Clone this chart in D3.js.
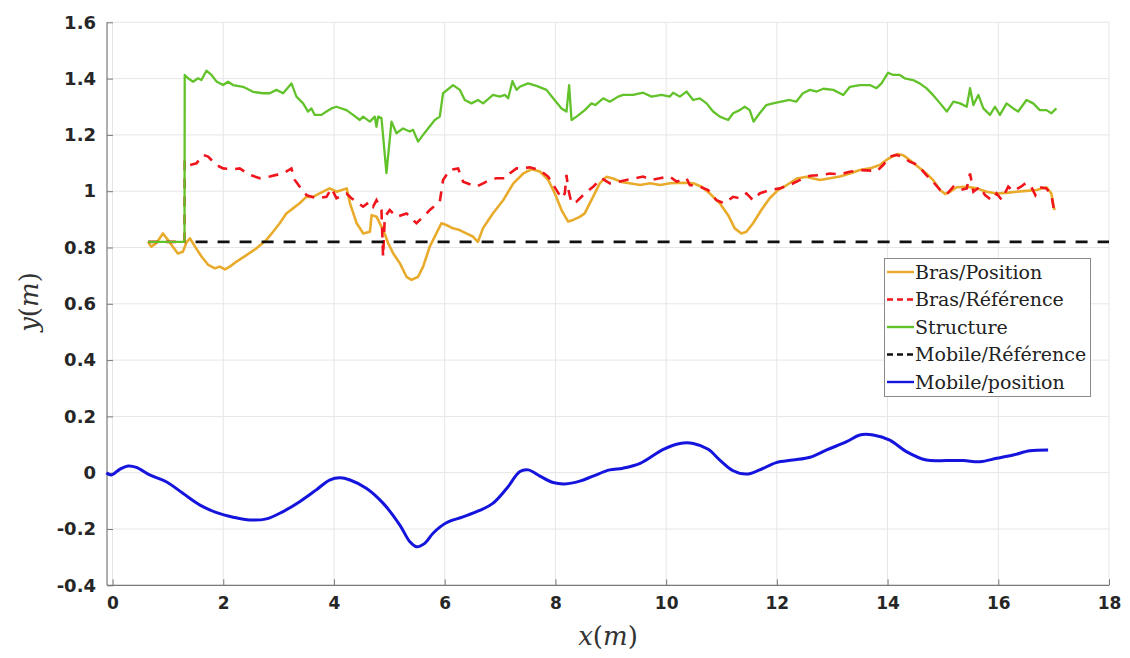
<!DOCTYPE html>
<html><head><meta charset="utf-8">
<script src="https://cdn.jsdelivr.net/npm/d3@7"></script>
<style>body{margin:0;background:#fff}svg{display:block}</style>
</head><body>
<svg id="c" width="1130" height="658"></svg>
<script>
// ---- data ----
const xTicks = [0,2,4,6,8,10,12,14,16,18];
const yTicks = [-0.4,-0.2,0,0.2,0.4,0.6,0.8,1,1.2,1.4,1.6];
const yTickLabels = ["-0.4","-0.2","0","0.2","0.4","0.6","0.8","1","1.2","1.4","1.6"];
const seriesNames = ["Bras/Position","Bras/Référence","Structure","Mobile/Référence","Mobile/position"];

const brasPosX = [0.64,0.70,0.79,0.91,1.00,1.09,1.18,1.27,1.34,1.40,1.49,1.61,1.73,1.85,1.94,2.03,2.12,2.24,2.42,2.60,2.78,2.90,3.02,3.14,3.26,3.38,3.50,3.62,3.74,3.92,4.05,4.23,4.29,4.41,4.53,4.65,4.68,4.77,4.89,4.98,5.07,5.19,5.31,5.40,5.52,5.61,5.73,5.85,5.94,6.03,6.15,6.27,6.39,6.51,6.60,6.69,6.87,7.06,7.24,7.42,7.57,7.72,7.87,7.99,8.11,8.23,8.32,8.44,8.53,8.59,8.68,8.80,8.92,9.04,9.19,9.34,9.53,9.71,9.89,10.07,10.31,10.49,10.64,10.79,10.97,11.12,11.24,11.36,11.45,11.57,11.72,11.87,12.02,12.18,12.36,12.54,12.60,12.78,12.96,13.14,13.32,13.50,13.68,13.86,13.98,14.10,14.19,14.28,14.40,14.55,14.70,14.82,14.95,15.04,15.13,15.25,15.43,15.61,15.79,15.97,16.15,16.33,16.51,16.69,16.87,16.96,17.00,17.02];
const brasPosY = [0.82,0.803,0.815,0.85,0.827,0.803,0.779,0.785,0.82,0.832,0.803,0.767,0.738,0.726,0.732,0.722,0.732,0.75,0.773,0.797,0.827,0.856,0.886,0.921,0.939,0.957,0.98,0.98,0.992,1.01,0.998,1.01,0.957,0.886,0.85,0.856,0.915,0.909,0.862,0.815,0.779,0.744,0.696,0.685,0.696,0.732,0.803,0.85,0.886,0.88,0.868,0.862,0.85,0.839,0.82,0.868,0.921,0.969,1.028,1.063,1.078,1.07,1.04,0.992,0.933,0.892,0.898,0.909,0.921,0.945,0.98,1.028,1.051,1.045,1.033,1.028,1.022,1.028,1.022,1.028,1.03,1.028,1.016,0.992,0.957,0.915,0.868,0.85,0.856,0.886,0.933,0.975,1.004,1.022,1.045,1.051,1.048,1.04,1.046,1.052,1.063,1.075,1.081,1.093,1.111,1.125,1.132,1.128,1.111,1.087,1.063,1.04,1.004,0.99,0.998,1.014,1.016,1.01,0.998,0.992,0.994,0.998,1.001,1.004,1.014,0.992,0.945,0.933];

const brasRefX = [0.64,1.30,1.304,1.395,1.516,1.635,1.726,1.877,1.997,2.177,2.298,2.479,2.659,2.84,2.961,3.081,3.232,3.292,3.382,3.503,3.683,3.864,3.955,4.045,4.226,4.316,4.406,4.526,4.647,4.707,4.768,4.858,4.887,4.918,5.008,5.129,5.31,5.49,5.61,5.731,5.911,5.971,6.092,6.242,6.333,6.453,6.574,6.694,6.815,6.935,7.116,7.176,7.297,7.416,7.537,7.718,7.868,8.02,8.11,8.17,8.2,8.229,8.291,8.381,8.531,8.681,8.833,8.983,9.133,9.284,9.434,9.585,9.736,9.887,10.067,10.188,10.368,10.428,10.609,10.759,10.91,11.05,11.21,11.33,11.45,11.57,11.69,11.87,12.05,12.23,12.42,12.6,12.78,12.96,13.14,13.32,13.5,13.71,13.8,13.92,14.04,14.16,14.25,14.4,14.55,14.7,14.82,14.95,15.07,15.19,15.31,15.43,15.49,15.55,15.67,15.76,15.88,15.97,16.06,16.18,16.27,16.41,16.49,16.58,16.67,16.75,16.87,16.96,17.0];
const brasRefY = [0.82,0.82,1.111,1.093,1.099,1.129,1.123,1.093,1.081,1.078,1.081,1.058,1.046,1.052,1.058,1.063,1.081,1.04,1.016,0.986,0.975,0.98,1.01,0.975,0.992,0.975,0.963,0.945,0.963,0.945,0.968,0.933,0.767,0.909,0.933,0.909,0.921,0.886,0.909,0.933,0.963,1.04,1.075,1.081,1.034,1.025,1.016,1.028,1.04,1.046,1.046,1.063,1.081,1.081,1.085,1.075,1.052,1.004,0.975,0.992,1.058,1.01,0.957,0.963,0.992,1.016,1.046,1.028,1.033,1.04,1.046,1.052,1.04,1.046,1.052,1.034,1.046,1.022,1.016,1.004,0.968,0.957,0.98,0.975,0.992,0.968,0.992,1.004,1.01,1.022,1.04,1.055,1.057,1.063,1.06,1.069,1.075,1.073,1.07,1.093,1.123,1.129,1.123,1.105,1.093,1.057,1.034,1.004,0.99,1.016,1.004,1.01,1.063,0.998,1.016,0.986,0.968,0.992,0.97,1.016,1.0,1.016,1.028,1.022,0.986,1.014,1.01,0.986,0.94];

const structX = [0.64,1.30,1.304,1.365,1.455,1.545,1.606,1.696,1.787,1.877,1.997,2.087,2.177,2.358,2.538,2.719,2.84,2.961,3.081,3.232,3.322,3.442,3.532,3.593,3.653,3.774,3.864,3.955,4.045,4.226,4.345,4.466,4.526,4.647,4.737,4.768,4.797,4.858,4.948,5.039,5.129,5.248,5.369,5.429,5.519,5.61,5.7,5.821,5.911,5.971,6.152,6.273,6.363,6.484,6.603,6.694,6.874,6.995,7.086,7.146,7.225,7.297,7.357,7.507,7.658,7.839,7.959,8.11,8.2,8.248,8.291,8.381,8.531,8.652,8.72,8.862,8.983,9.133,9.223,9.404,9.585,9.736,9.917,10.067,10.127,10.247,10.368,10.488,10.609,10.73,10.849,10.97,11.12,11.21,11.33,11.42,11.51,11.58,11.69,11.81,11.93,12.08,12.23,12.35,12.47,12.6,12.72,12.84,13.02,13.2,13.32,13.5,13.68,13.8,13.89,14.01,14.1,14.22,14.31,14.46,14.58,14.7,14.82,14.95,15.07,15.19,15.31,15.43,15.49,15.55,15.64,15.73,15.85,15.94,16.03,16.15,16.27,16.36,16.51,16.63,16.75,16.87,16.96,17.05];
const structY = [0.82,0.82,1.413,1.401,1.389,1.401,1.395,1.428,1.413,1.39,1.377,1.389,1.377,1.371,1.353,1.348,1.348,1.36,1.348,1.383,1.336,1.312,1.283,1.294,1.271,1.271,1.283,1.294,1.3,1.288,1.271,1.253,1.265,1.247,1.265,1.229,1.265,1.26,1.064,1.247,1.206,1.223,1.212,1.218,1.176,1.2,1.223,1.253,1.265,1.348,1.377,1.36,1.324,1.312,1.324,1.312,1.342,1.336,1.342,1.33,1.391,1.36,1.371,1.383,1.374,1.36,1.33,1.294,1.283,1.377,1.253,1.265,1.288,1.312,1.306,1.33,1.318,1.336,1.342,1.342,1.35,1.336,1.342,1.336,1.35,1.336,1.354,1.324,1.33,1.312,1.283,1.265,1.253,1.277,1.288,1.3,1.288,1.247,1.277,1.306,1.312,1.318,1.324,1.318,1.348,1.36,1.354,1.364,1.36,1.342,1.371,1.377,1.377,1.366,1.383,1.421,1.413,1.413,1.401,1.395,1.383,1.366,1.342,1.312,1.283,1.318,1.312,1.3,1.366,1.306,1.342,1.294,1.271,1.3,1.271,1.312,1.294,1.283,1.324,1.312,1.288,1.288,1.277,1.294];

const mobRefX = [1.5,18];
const mobRefY = [0.82,0.82];

const mobPosX = [-0.11,-0.02,0.13,0.28,0.43,0.67,0.97,1.27,1.58,1.88,2.18,2.48,2.78,3.08,3.38,3.68,3.92,4.11,4.29,4.59,4.89,5.19,5.37,5.49,5.64,5.79,6.03,6.33,6.63,6.87,7.12,7.36,7.51,7.72,7.96,8.17,8.44,8.68,8.98,9.22,9.53,9.95,10.25,10.49,10.76,10.97,11.21,11.45,11.69,11.99,12.29,12.6,12.9,13.26,13.5,13.74,14.04,14.34,14.7,15.07,15.37,15.67,15.97,16.27,16.57,16.9];
const mobPosY = [0.0,-0.008,0.012,0.024,0.019,-0.008,-0.032,-0.073,-0.115,-0.142,-0.158,-0.168,-0.164,-0.138,-0.103,-0.061,-0.026,-0.018,-0.026,-0.056,-0.109,-0.186,-0.245,-0.263,-0.251,-0.215,-0.178,-0.157,-0.134,-0.109,-0.056,0.004,0.01,-0.012,-0.035,-0.04,-0.03,-0.012,0.01,0.016,0.033,0.083,0.104,0.104,0.083,0.045,0.007,-0.005,0.01,0.036,0.045,0.055,0.081,0.110,0.134,0.134,0.116,0.075,0.045,0.043,0.043,0.039,0.051,0.063,0.078,0.081];

// ---- drawing ----
const SERIF = "'DejaVu Serif', 'Liberation Serif', serif";
const svg = d3.select("#c");
svg.append("rect").attr("width",1130).attr("height",658).attr("fill","#fff");
const L=107, R=1109, T=22.3, B=585.3;
const x = d3.scaleLinear().domain([-0.1,18]).range([L,R]);
const y = d3.scaleLinear().domain([-0.4,1.6]).range([B,T]);

// grid
const g = svg.append("g");
g.selectAll(".gx").data(xTicks).join("line")
  .attr("x1",d=>x(d)).attr("x2",d=>x(d)).attr("y1",T).attr("y2",B)
  .attr("stroke","#e6e6e6").attr("stroke-width",1);
g.selectAll(".gy").data(yTicks).join("line")
  .attr("x1",L).attr("x2",R).attr("y1",d=>y(d)).attr("y2",d=>y(d))
  .attr("stroke","#e6e6e6").attr("stroke-width",1);

// axes
const xAxis = d3.axisBottom(x).tickValues(xTicks).tickSize(-6).tickPadding(12).tickFormat(d3.format("d"));
const yAxis = d3.axisLeft(y).tickValues(yTicks).tickSize(-6).tickPadding(11).tickFormat((d,i)=>yTickLabels[i]);
const gx = svg.append("g").attr("transform",`translate(0,${B})`).call(xAxis);
const gy = svg.append("g").attr("transform",`translate(${L},0)`).call(yAxis);
[gx,gy].forEach(a=>{
  a.select(".domain").attr("stroke","#7a7a7a").attr("stroke-width",1.2);
  a.selectAll(".tick line").attr("stroke","#7a7a7a");
  a.selectAll(".tick text").attr("fill","#262626").attr("font-family","'DejaVu Sans', sans-serif").attr("font-weight","bold");
});
gx.selectAll(".tick text").attr("font-size","17px");
gy.selectAll(".tick text").attr("font-size","18px");
gx.select(".domain").attr("d",`M${L},0H${R}`);
gy.select(".domain").attr("d",`M0,${B}V${T}`);

// lines
const line = d3.line().x(d=>x(d[0])).y(d=>y(d[1]));
const smooth = d3.line().x(d=>x(d[0])).y(d=>y(d[1])).curve(d3.curveCatmullRom);
const zip = (a,b)=>a.map((v,i)=>[v,b[i]]);
const plot = svg.append("g");
plot.append("path").datum(zip(brasPosX,brasPosY)).attr("d",line)
  .attr("fill","none").attr("stroke","#e9ab2b").attr("stroke-width",2.6).attr("stroke-linejoin","round");
plot.append("path").datum(zip(brasRefX,brasRefY)).attr("d",line)
  .attr("fill","none").attr("stroke","#f0141c").attr("stroke-width",2.6).attr("stroke-dasharray","10,8");
plot.append("path").datum(zip(structX,structY)).attr("d",line)
  .attr("fill","none").attr("stroke","#62c22a").attr("stroke-width",2.3).attr("stroke-linejoin","round");
plot.append("path").datum(zip(mobRefX,mobRefY)).attr("d",line)
  .attr("fill","none").attr("stroke","#111").attr("stroke-width",2.6).attr("stroke-dasharray","12,10");
plot.append("path").datum(zip(mobPosX,mobPosY)).attr("d",smooth)
  .attr("fill","none").attr("stroke","#1414dc").attr("stroke-width",3);

// axis labels
svg.append("text").attr("x",608).attr("y",645).attr("text-anchor","middle")
  .attr("font-family",SERIF).attr("font-size","26px").attr("fill","#333")
  .html('<tspan font-style="italic">x</tspan>(<tspan font-style="italic">m</tspan>)');
svg.append("text").attr("transform","translate(38,302) rotate(-90)").attr("text-anchor","middle")
  .attr("font-family",SERIF).attr("font-size","26px").attr("fill","#333")
  .html('<tspan font-style="italic">y</tspan>(<tspan font-style="italic">m</tspan>)');

// legend
const colors = ["#e9ab2b","#f0141c","#62c22a","#111","#1414dc"];
const dashes = [null,"6,4",null,"6,4",null];
const leg = svg.append("g");
leg.append("rect").attr("x",884.5).attr("y",258.5).attr("width",206).attr("height",138)
  .attr("fill","#fff").attr("stroke","#8a8a8a").attr("stroke-width",1);
const ly = d3.scalePoint().domain(seriesNames).range([272,382]);
seriesNames.forEach((n,i)=>{
  leg.append("line").attr("x1",887).attr("x2",914).attr("y1",ly(n)).attr("y2",ly(n))
    .attr("stroke",colors[i]).attr("stroke-width",2.4).attr("stroke-dasharray",dashes[i]);
  leg.append("text").attr("x",915).attr("y",ly(n)+6.5).attr("font-family",SERIF)
    .attr("font-size","19px").attr("fill","#222").text(n);
});
</script>
</body></html>
